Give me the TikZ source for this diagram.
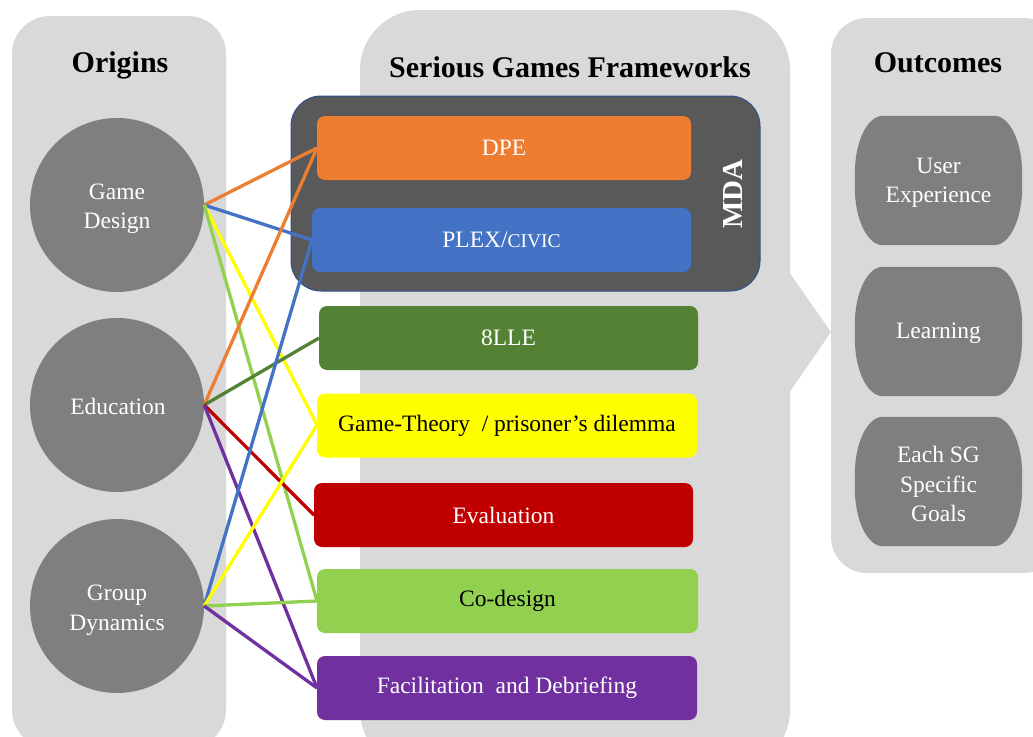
\documentclass[tikz,border=0pt]{standalone}
\usepackage{fontspec}
\setmainfont{Liberation Serif}
\usetikzlibrary{backgrounds}
\definecolor{panelgray}{HTML}{D9D9D9}
\definecolor{nodegray}{HTML}{7F7F7F}
\definecolor{mdagray}{HTML}{595959}
\definecolor{mdaedge}{HTML}{2F528F}
\definecolor{cOrange}{HTML}{ED7D31}
\definecolor{cBlue}{HTML}{4472C4}
\definecolor{cDkGreen}{HTML}{548235}
\definecolor{cYellow}{HTML}{FFFF00}
\definecolor{cRed}{HTML}{C00000}
\definecolor{cLtGreen}{HTML}{92D050}
\definecolor{cPurple}{HTML}{7030A0}
% capsule outline with elliptical ends around a named node
\newcommand\capsulefill[1]{%
  \fill[nodegray] ([yshift=-58pt]#1.north west)
    arc[start angle=180,end angle=90,x radius=28pt,y radius=58pt]
    -- ([xshift=-28pt]#1.north east)
    arc[start angle=90,end angle=0,x radius=28pt,y radius=58pt]
    -- ([yshift=58pt]#1.south east)
    arc[start angle=0,end angle=-90,x radius=28pt,y radius=58pt]
    -- ([xshift=28pt]#1.south west)
    arc[start angle=-90,end angle=-180,x radius=28pt,y radius=58pt]
    -- cycle;}
\begin{document}
\begin{tikzpicture}[x=1pt,y=-1pt,
  bodytext/.style={font=\fontsize{23.5}{29.5}\selectfont, align=center},
  titletext/.style={font=\fontsize{30}{34}\selectfont\bfseries},
  origin/.style={circle, fill=nodegray, minimum size=174pt, inner sep=0pt},
  label text/.style={bodytext, text=white, inner sep=0pt},
  fw/.style={rectangle, rounded corners=8pt, minimum height=64pt, inner sep=0pt,
    bodytext},
  outcome/.style={rectangle, minimum width=167pt, minimum height=129pt,
    inner sep=0pt},
  link/.style={line width=3.3pt}]
\useasboundingbox (0,0) rectangle (1033,736);

% background panels
\begin{scope}[on background layer]
  \fill[panelgray, rounded corners=38pt] (12,16) rectangle (226,748);
  \fill[panelgray, rounded corners=60pt] (360,10) rectangle (790,770);
  \fill[panelgray] (789,272) -- (831,332) -- (789,393) -- cycle;
  \fill[panelgray, rounded corners=36pt] (831,18) rectangle (1060,573);
\end{scope}

% titles
\node[titletext] (tOrig) at (120,65) {Origins};
\node[titletext] (tFw) at (570,67) {Serious Games Frameworks};
\node[titletext] (tOut) at (938,63) {Outcomes};

% origins
\node[origin] (gd) at (117,205) {};
\node[origin] (edu) at (117,405) {};
\node[origin] (grp) at (117,606) {};
\node[label text] (gdText) at (117,209) {Game\\Design};
\node[label text] (eduText) at (118,406) {Education};
\node[label text] (grpText) at (117,610) {Group\\Dynamics};

% MDA frame
\node[rectangle, rounded corners=30pt, fill=mdagray, draw=mdaedge, line width=1pt,
  minimum width=469pt, minimum height=195pt] (mda) at (525.5,193.5) {};
\node[rotate=90, font=\fontsize{29}{32}\selectfont\bfseries, text=white]
  (mdalabel) at (733,194) {MDA};

% connectors
\draw[link, cOrange] (gd.east) -- (317,148);
\draw[link, cBlue] (gd.east) -- (312,240);
\draw[link, cYellow] (gd.east) -- (317,425);
\draw[link, cLtGreen] (gd.east) -- (317,601);
\draw[link, cOrange] (edu.east) -- (317,148);
\draw[link, cDkGreen] (edu.east) -- (319,338);
\draw[link, cRed] (edu.east) -- (314,515);
\draw[link, cPurple] (edu.east) -- (317,688);
\draw[link, cBlue] (grp.east) -- (312,240);
\draw[link, cYellow] (grp.east) -- (317,425);
\draw[link, cLtGreen] (grp.east) -- (317,601);
\draw[link, cPurple] (grp.east) -- (317,688);

% frameworks
\node[fw, fill=cOrange, text=white, minimum width=374pt] (dpe) at (504,148) {DPE};
\node[fw, fill=cBlue, text=white, minimum width=379pt] (plex) at (501.5,240)
  {PLEX/{\fontsize{19.5}{29}\selectfont CIVIC}};
\node[fw, fill=cDkGreen, text=white, minimum width=379pt] (lle) at (508.5,338) {8LLE};
\node[fw, fill=cYellow, text=black, minimum width=380pt] (gt) at (507,425.5)
  {Game-Theory\ \ / prisoner’s dilemma};
\node[fw, fill=cRed, text=white, minimum width=379pt] (ev) at (503.5,515) {Evaluation};
\node[fw, fill=cLtGreen, text=black, minimum width=381pt] (cod) at (507.5,601) {Co-design};
\node[fw, fill=cPurple, text=white, minimum width=380pt] (fac) at (507,688)
  {Facilitation\ \ and Debriefing};

% outcomes
\node[outcome] (ux) at (938.5,180.5) {};
\node[outcome] (learn) at (938.5,331.5) {};
\node[outcome] (goals) at (938.5,481.5) {};
\node[label text] (uxText) at (938.5,183) {User\\Experience};
\node[label text] (learnText) at (938.5,333) {Learning};
\node[label text] (goalsText) at (938.5,484) {Each SG\\Specific\\Goals};
\begin{scope}[on background layer]
  \capsulefill{ux}
  \capsulefill{learn}
  \capsulefill{goals}
\end{scope}
\end{tikzpicture}
\end{document}
